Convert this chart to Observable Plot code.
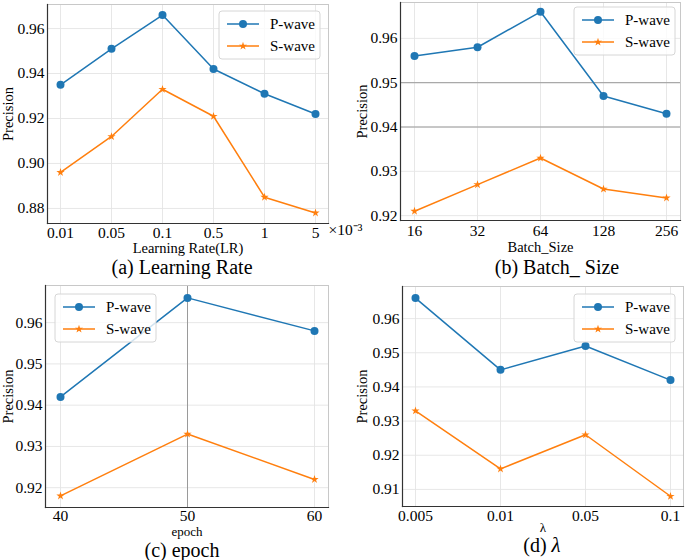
<!DOCTYPE html>
<html><head><meta charset="utf-8">
<script src="https://cdn.jsdelivr.net/npm/d3@7"></script>
<script src="https://cdn.jsdelivr.net/npm/@observablehq/plot@0.6"></script>
<style>
body{margin:0;background:#fff;}
#root{position:relative;width:685px;height:560px;overflow:hidden;font-family:'Liberation Serif','Times New Roman',serif;color:#000;}
.panel{position:absolute;}
.cap{position:absolute;font-family:'Liberation Serif','Times New Roman',serif;font-size:20px;transform:translate(-50%,-50%);white-space:nowrap;line-height:1;}
</style></head><body><div id="root"></div>
<script>
// ---- data ----
const lrCats = ["0.01","0.05","0.1","0.5","1","5"];
const lrP = [0.935,0.951,0.966,0.942,0.931,0.922];
const lrS = [0.896,0.912,0.933,0.921,0.885,0.878];
const lrYTicks = [0.88,0.90,0.92,0.94,0.96];

const bsCats = ["16","32","64","128","256"];
const bsP = [0.956,0.958,0.966,0.947,0.943];
const bsS = [0.921,0.927,0.933,0.926,0.924];
const bsYTicks = [0.92,0.93,0.94,0.95,0.96];

const epCats = ["40","50","60"];
const epP = [0.942,0.966,0.958];
const epS = [0.918,0.933,0.922];
const epYTicks = [0.92,0.93,0.94,0.95,0.96];

const lamCats = ["0.005","0.01","0.05","0.1"];
const lamP = [0.966,0.945,0.952,0.942];
const lamS = [0.933,0.916,0.926,0.908];
const lamYTicks = [0.91,0.92,0.93,0.94,0.95,0.96];

const seriesNames = ["P-wave","S-wave"];
const captions = ["(a) Learning Rate","(b) Batch_ Size","(c) epoch","(d) "];

// ---- styles ----
const BLUE = "#1f77b4", ORANGE = "#ff7f0e";
const FONT = "'Liberation Serif','Times New Roman',serif";

function legendMark(pos) {
  return (index, scales, values, dims) => {
    const {width, marginLeft, marginRight, marginTop} = dims;
    const w = 101, h = 48;
    const x0 = pos.side === "right" ? width - marginRight - pos.ox - w : marginLeft + pos.ox;
    const y0 = marginTop + pos.oy;
    const g = d3.create("svg:g");
    g.append("rect").attr("x", x0).attr("y", y0).attr("width", w).attr("height", h)
      .attr("rx", 3).attr("fill", "white").attr("fill-opacity", 0.8).attr("stroke", "#d6d6d6");
    const specs = [
      {name: seriesNames[0], color: BLUE, sym: d3.symbolCircle, size: Math.PI * 16},
      {name: seriesNames[1], color: ORANGE, sym: d3.symbolStar, size: Math.PI * 2.6 * 2.6}
    ];
    specs.forEach((s, i) => {
      const yy = y0 + 13 + i * 22;
      g.append("line").attr("x1", x0 + 8).attr("x2", x0 + 40).attr("y1", yy).attr("y2", yy)
        .attr("stroke", s.color).attr("stroke-width", 1.5);
      g.append("path").attr("d", d3.symbol(s.sym, s.size)()).attr("transform", `translate(${x0 + 24},${yy})`)
        .attr("fill", s.color);
      g.append("text").attr("x", x0 + 51).attr("y", yy).attr("dy", "0.35em")
        .attr("text-anchor", "start")
        .attr("font-size", 15).attr("fill", "#000").attr("font-family", FONT).text(s.name);
    });
    return g.node();
  };
}

function panel(o) {
  const rows = o.cats.map((c, i) => ({c, P: o.p[i], S: o.s[i]}));
  const chart = Plot.plot({
    width: o.width, height: o.height,
    marginLeft: o.m[0], marginRight: o.m[1], marginTop: o.m[2], marginBottom: o.m[3],
    style: {fontFamily: FONT, fontSize: "15.5px", overflow: "visible", background: "transparent", color: "#000"},
    x: {type: "point", domain: o.cats, padding: o.xPad},
    y: {domain: o.yDomain},
    marks: [
      Plot.gridX(o.cats, {stroke: "#e4e4e4", strokeOpacity: 1, strokeWidth: 0.9}),
      Plot.gridY(o.yTicks, {stroke: "#e4e4e4", strokeOpacity: 1, strokeWidth: 0.9}),
      Plot.gridX(o.darkX || [], {stroke: "#9a9a9a", strokeOpacity: 1, strokeWidth: 1}),
      Plot.gridY(o.darkY || [], {stroke: "#9a9a9a", strokeOpacity: 1, strokeWidth: 1}),
      Plot.frame({stroke: "#c8c8c8"}),
      Plot.frame({anchor: "left", stroke: "#333", strokeWidth: 1.2}),
      Plot.frame({anchor: "bottom", stroke: "#333", strokeWidth: 1.2}),
      Plot.axisX({tickSize: 0, tickPadding: o.xPadTick, label: null, fontSize: 15.5}),
      Plot.axisY(o.yTicks, {tickSize: 0, tickPadding: 3, tickFormat: ".2f", label: null, fontSize: 15.5}),
      Plot.text([o.xLabel], {frameAnchor: "bottom", lineAnchor: "middle", textAnchor: "middle", dy: o.xLabelDy, fontSize: o.xLabelSize || 14.5, fill: "#000"}),
      Plot.text(["Precision"], {frameAnchor: "left", lineAnchor: "middle", textAnchor: "middle", dx: -o.yLabelDx, rotate: -90, fontSize: 14.5, fill: "#000"}),
      Plot.line(rows, {x: "c", y: "S", stroke: ORANGE, strokeWidth: 1.5}),
      Plot.dot(rows, {x: "c", y: "S", symbol: "star", fill: ORANGE, stroke: "none", r: 2.6}),
      Plot.line(rows, {x: "c", y: "P", stroke: BLUE, strokeWidth: 1.5}),
      Plot.dot(rows, {x: "c", y: "P", fill: BLUE, stroke: "none", r: 4}),
      ...(o.extra || []),
      legendMark(o.legend)
    ]
  });
  chart.classList.add("panel");
  chart.style.left = o.left + "px";
  chart.style.top = o.top + "px";
  return chart;
}

const root = document.getElementById("root");

root.append(panel({
  cats: lrCats, p: lrP, s: lrS, yTicks: lrYTicks, yDomain: [0.8733, 0.9707],
  xLabel: "Learning Rate(LR)", left: 0, top: 0, width: 340, height: 258,
  m: [47, 12, 4, 35], xPad: 0.234, xPadTick: 3, xLabelDy: 25, yLabelDx: 39,
  legend: {side: "right", ox: 8, oy: 7},
  extra: [Plot.text(["×10⁻³"], {frameAnchor: "bottom-right", lineAnchor: "middle", textAnchor: "start", dx: 0, dy: 7, fontSize: 15.5, fill: "#000"})]
}));

root.append(panel({
  cats: bsCats, p: bsP, s: bsS, yTicks: bsYTicks, yDomain: [0.9189, 0.9681],
  xLabel: "Batch_Size", left: 340, top: 0, width: 345, height: 258,
  m: [60, 5, 2, 38], xPad: 0.2, xPadTick: 4, xLabelDy: 27, yLabelDx: 38,
  legend: {side: "right", ox: 5, oy: 5}, darkY: [0.94, 0.95]
}));

root.append(panel({
  cats: epCats, p: epP, s: epS, yTicks: epYTicks, yDomain: [0.9152, 0.969],
  xLabel: "epoch", left: 0, top: 280, width: 340, height: 252,
  m: [45, 12, 5, 25], xPad: 0.11, xPadTick: 2, xLabelDy: 24, xLabelSize: 13, yLabelDx: 37,
  legend: {side: "left", ox: 10, oy: 9}, darkX: ["50"]
}));

root.append(panel({
  cats: lamCats, p: lamP, s: lamS, yTicks: lamYTicks, yDomain: [0.905, 0.9694],
  xLabel: "λ", left: 340, top: 280, width: 345, height: 252,
  m: [62, 2, 6, 26], xPad: 0.15, xPadTick: 3, xLabelDy: 21, xLabelSize: 13, yLabelDx: 40,
  legend: {side: "right", ox: 8, oy: 8}
}));

const capPos = [[182, 267], [557, 267], [182, 550], [542, 545]];
captions.forEach((t, i) => {
  const d = document.createElement("div");
  d.className = "cap";
  d.style.left = capPos[i][0] + "px";
  d.style.top = capPos[i][1] + "px";
  d.textContent = t;
  if (i === 3) {
    const l = document.createElement("i");
    l.textContent = "λ";
    l.style.fontSize = "21px";
    d.append(l);
  }
  root.append(d);
});
</script>
</body></html>
